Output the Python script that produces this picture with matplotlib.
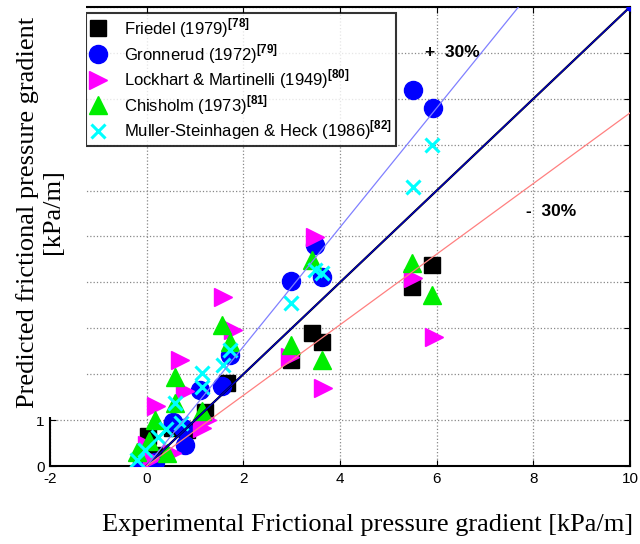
import matplotlib
matplotlib.use("Agg")
import matplotlib.pyplot as plt
import numpy as np
from matplotlib.patches import Rectangle

plt.rcParams['font.family'] = ['Liberation Sans', 'DejaVu Sans']
plt.rcParams['mathtext.fontset'] = 'custom'
plt.rcParams['mathtext.rm'] = 'Liberation Sans'
plt.rcParams['mathtext.bf'] = 'Liberation Sans:bold'

# ---- data (experimental, predicted) ----
friedel_x = [5.90, 5.48, 3.43, 3.62, 2.98, 1.66, 1.20, 0.83, 0.52, 0.02, 0.15]
friedel_y = [4.38, 3.90, 2.90, 2.70, 2.31, 1.81, 1.18, 0.78, 0.83, 0.65, 0.25]

gron_x = [5.50, 5.92, 3.48, 3.62, 2.98, 1.72, 1.55, 1.10, 0.54, 0.75, 0.79, -0.10, 0.17]
gron_y = [8.19, 7.80, 4.81, 4.12, 4.03, 2.42, 1.74, 1.66, 0.96, 0.83, 0.46, 0.07, 0.09]

lock_x = [5.94, 5.52, 3.48, 3.64, 2.96, 1.57, 1.78, 0.68, 0.79, 0.20, 1.15, 1.25, 0.52, 0.00, 0.10]
lock_y = [2.81, 4.10, 4.99, 1.70, 2.37, 3.68, 2.96, 2.31, 1.63, 1.30, 0.82, 1.00, 0.28, 0.45, 0.15]

chis_x = [5.48, 5.90, 3.43, 2.98, 3.62, 1.55, 1.72, 0.58, 0.58, 1.14, 0.17, -0.19, 0.43, 0.05]
chis_y = [4.42, 3.72, 4.49, 2.64, 2.31, 3.07, 2.70, 1.94, 1.37, 1.20, 1.00, 0.30, 0.28, 0.55]

mull_x = [5.90, 5.50, 3.48, 3.62, 2.98, 1.72, 1.57, 1.14, 1.14, 0.58, 0.72, 0.23, -0.04, -0.19, 0.40]
mull_y = [7.00, 6.08, 4.27, 4.20, 3.55, 2.53, 2.20, 2.02, 1.72, 1.37, 0.94, 0.63, 0.35, 0.13, 0.80]

labels = [r"Friedel (1979)$^{\mathbf{[78]}}$",
          r"Gronnerud (1972)$^{\mathbf{[79]}}$",
          r"Lockhart & Martinelli (1949)$^{\mathbf{[80]}}$",
          r"Chisholm (1973)$^{\mathbf{[81]}}$",
          r"Muller-Steinhagen & Heck (1986)$^{\mathbf{[82]}}$"]

x_ticks = [-2, 0, 2, 4, 6, 8, 10]
y_ticks = list(range(0, 11))
y_ticklabels = ["0", "1"] + [""] * 9
line_x = [0, 10]
band = 1.3

fig = plt.figure(figsize=(6.4, 5.44), dpi=100)
ax = fig.add_axes([50/640, 1-466/544, 580/640, 459/544])

ax.plot(friedel_x, friedel_y, 's', color='black', ms=11.5, label=labels[0], zorder=3)
ax.plot(gron_x, gron_y, 'o', color='#0000ff', ms=13, label=labels[1], zorder=3)
ax.plot(lock_x, lock_y, '>', color='#ff00ff', ms=13, label=labels[2], zorder=3)
ax.plot(chis_x, chis_y, '^', color='#00ee00', ms=13, label=labels[3], zorder=3)
ax.plot(mull_x, mull_y, 'x', color='#00ffff', ms=10, mew=2.2, label=labels[4], zorder=3)

lx = np.array(line_x, dtype=float)
ax.plot(lx, lx, color='black', lw=1.6, zorder=4)
ax.plot(lx, lx, color='#0000cc', lw=0.9, zorder=4)
ax.plot([10], [10], 'o', color='#0000ff', ms=5, zorder=4)
ax.plot(lx, lx*band, color='#8080ff', lw=0.9, zorder=4)
ax.plot(lx, lx/band, color='#ff8080', lw=0.9, zorder=4)

ax.text(5.75, 9.0, "+  30%", fontsize=12.5, fontweight='bold', ha='left', va='center')
ax.text(7.85, 5.55, "-  30%", fontsize=12.5, fontweight='bold', ha='left', va='center')

ax.set_xlim(-2, 10)
ax.set_ylim(0, 10)
ax.set_xticks(x_ticks)
ax.set_yticks(y_ticks)
ax.set_xticklabels([str(t) for t in x_ticks])
ax.set_yticklabels(y_ticklabels)
ax.tick_params(direction='in', top=True, right=True, length=4, labelsize=11, pad=4)
ax.grid(True, color='#888888', linestyle=':', lw=0.9)
for s in ax.spines.values():
    s.set_linewidth(1.5)

leg = ax.legend(loc='upper left', bbox_to_anchor=((86-50)/580, (466-13)/459),
                fontsize=12, frameon=True, fancybox=False, edgecolor='black',
                borderpad=0.2, labelspacing=0.12, handlelength=1.0, handletextpad=1.1,
                borderaxespad=0.0, numpoints=1)
leg.get_frame().set_linewidth(1.5)
leg.set_zorder(6)

# white patch hiding upper-left region (as in reference)
fig.patches.append(Rectangle((0, 1-417/544), 86/640, 417/544, transform=fig.transFigure,
                             facecolor='white', edgecolor='none', zorder=5))

fig.text(40/640, 1-212/544, "Predicted frictional pressure gradient\n[kPa/m]",
         rotation=90, ha='center', va='center', multialignment='center',
         family='Liberation Serif', fontsize=19, zorder=10, linespacing=1.2)
fig.text(368/640, 1-525/544, "Experimental Frictional pressure gradient [kPa/m]",
         ha='center', va='center', family='Liberation Serif', fontsize=19, zorder=10)

fig.savefig("out.png", dpi=100)
